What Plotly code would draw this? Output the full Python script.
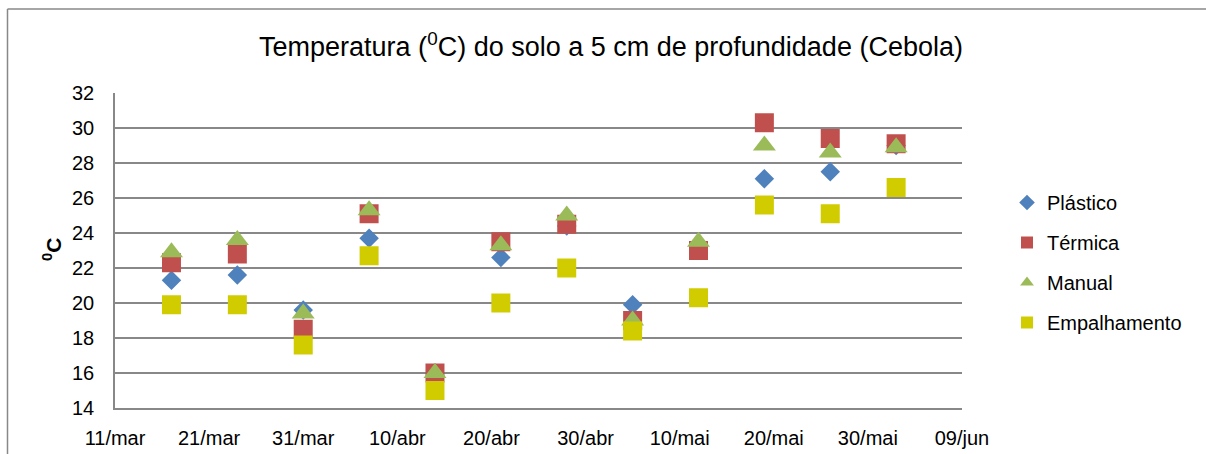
import plotly.graph_objects as go

dates = ["2011-03-17", "2011-03-24", "2011-03-31", "2011-04-07", "2011-04-14", "2011-04-21",
         "2011-04-28", "2011-05-05", "2011-05-12", "2011-05-19", "2011-05-26", "2011-06-02"]
plastico = [21.3, 21.6, 19.6, 23.7, 16.0, 22.6, 24.4, 19.9, 23.2, 27.1, 27.5, 29.0]
termica = [22.3, 22.8, 18.5, 25.1, 16.0, 23.5, 24.5, 19.0, 23.0, 30.3, 29.4, 29.1]
manual = [22.9, 23.6, 19.4, 25.3, 16.0, 23.3, 25.0, 19.0, 23.5, 29.0, 28.6, 28.9]
empalhamento = [19.9, 19.9, 17.6, 22.7, 15.0, 20.0, 22.0, 18.4, 20.3, 25.6, 25.1, 26.6]

tick_vals = ["2011-03-11", "2011-03-21", "2011-03-31", "2011-04-10", "2011-04-20", "2011-04-30",
             "2011-05-10", "2011-05-20", "2011-05-30", "2011-06-09"]
tick_text = ["11/mar", "21/mar", "31/mar", "10/abr", "20/abr", "30/abr",
             "10/mai", "20/mai", "30/mai", "09/jun"]

series = [
    ("Plástico", plastico, "diamond", 15, "#4F81BD"),
    ("Térmica", termica, "square", 19, "#C0504D"),
    ("Manual", manual, "triangle-up", 20, "#9BBB59"),
    ("Empalhamento", empalhamento, "square", 19, "#D0CC00"),
]

fig = go.Figure()
for i, (name, vals, sym, size, col) in enumerate(series):
    fig.add_trace(go.Scatter(
        x=dates, y=vals, mode="markers", name=name, legendgroup=f"g{i}",
        marker=dict(symbol=sym, size=size, color=col, line=dict(width=0)),
    ))

W, H = 1206, 454
L, R, T, B = 115, 244, 93, 46
pw, ph = W - L - R, H - T - B

def px(x):
    return (x - L) / pw

def py(y):
    return (H - B - y) / ph

fig.update_layout(
    width=W, height=H,
    margin=dict(l=L, r=R, t=T, b=B, autoexpand=False),
    paper_bgcolor="white", plot_bgcolor="white",
    font=dict(family="Liberation Sans, Arial, sans-serif", size=20, color="black"),
    title=dict(text="Temperatura (<sup>0</sup>C) do solo a 5 cm de profundidade (Cebola)",
               xref="container", x=611 / W, xanchor="center",
               yref="container", y=1 - 47 / H, yanchor="middle",
               font=dict(size=27)),
    showlegend=True,
    legend=dict(x=px(1007), xanchor="left", y=py(183), yanchor="top",
                font=dict(size=20), tracegroupgap=11, itemsizing="constant",
                bgcolor="rgba(0,0,0,0)"),
    xaxis=dict(type="date", range=["2011-03-11", "2011-06-09"],
               tickvals=tick_vals, ticktext=tick_text, showgrid=False,
               showline=True, linecolor="#888888", linewidth=1.5,
               ticks="", ticklabelstandoff=11, zeroline=False, automargin=False),
    yaxis=dict(range=[14, 32], dtick=2, tick0=14, showgrid=True,
               gridcolor="#888888", gridwidth=1.5,
               showline=True, linecolor="#888888", linewidth=1.5,
               ticks="", ticklabelstandoff=15, zeroline=False, automargin=False),
    annotations=[dict(text="<b><sup>0</sup>C</b>", xref="paper", yref="paper",
                      x=px(52), y=py(250), textangle=-90, showarrow=False,
                      xanchor="center", yanchor="middle", font=dict(size=21))],
    shapes=[
        dict(type="line", xref="paper", yref="paper", x0=px(7.5), x1=px(1210),
             y0=py(9), y1=py(9), line=dict(color="#888888", width=1.5)),
        dict(type="line", xref="paper", yref="paper", x0=px(7.5), x1=px(7.5),
             y0=py(9), y1=py(460), line=dict(color="#888888", width=1.5)),
    ],
)

fig.write_html("out.html")
